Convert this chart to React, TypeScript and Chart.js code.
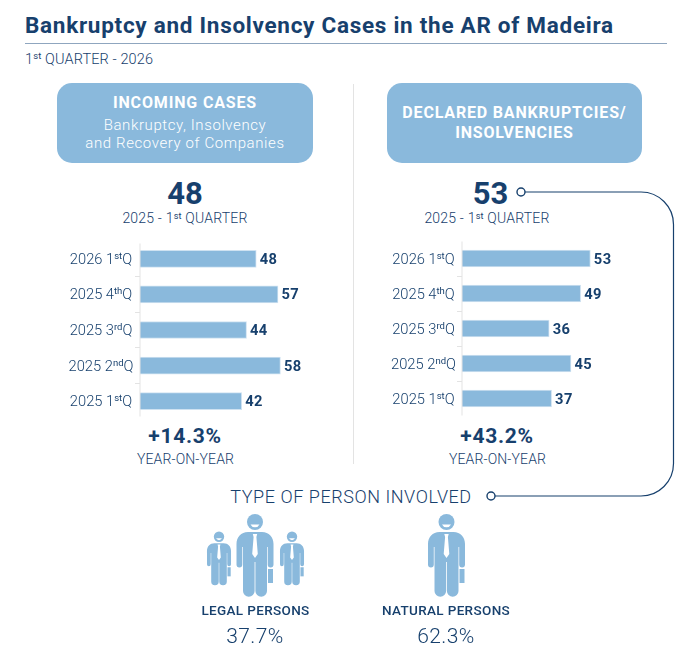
import React, { useEffect, useRef } from "react";
import { Chart, registerables } from "chart.js";

Chart.register(...registerables);

const quarters = ["2026 1stQ", "2025 4thQ", "2025 3rdQ", "2025 2ndQ", "2025 1stQ"];
const incomingCases = [48, 57, 44, 58, 42];
const declaredCases = [53, 49, 36, 45, 37];

const NAVY = "#17406d";
const BLUE = "#8ab9dc";
const BLUE_EDGE = "#cfe2f1";
const FONT = "Roboto, sans-serif";

// quarter labels have a raised ordinal, which chart.js ticks can't do, so they are drawn here
const labelsPlugin = {
  id: "labels",
  afterDraw(chart: any, _args: any, opts: any) {
    const { ctx, chartArea, scales } = chart;
    const y = scales.y;
    ctx.save();

    ctx.strokeStyle = "#e3e3e3";
    ctx.lineWidth = 1;
    ctx.beginPath();
    ctx.moveTo(chartArea.left, chartArea.top + opts.axisInset);
    ctx.lineTo(chartArea.left, chartArea.bottom - opts.axisInset);
    ctx.stroke();

    ctx.textBaseline = "alphabetic";
    ctx.fillStyle = NAVY;
    chart.data.labels.forEach((label: string, i: number) => {
      const m = label.match(/^(.*?)(st|nd|rd|th)(Q)$/)!;
      const py = y.getPixelForValue(i);
      const big = "300 14.7px " + FONT;
      const small = "400 9.5px " + FONT;
      ctx.font = big;
      const w1 = ctx.measureText(m[1]).width;
      const w3 = ctx.measureText(m[3]).width;
      ctx.font = small;
      const w2 = ctx.measureText(m[2]).width;
      let x = opts.labelCenter - (w1 + w2 + w3) / 2;
      ctx.textAlign = "left";
      ctx.font = big;
      ctx.fillText(m[1], x, py + 5);
      x += w1;
      ctx.font = small;
      ctx.fillText(m[2], x, py);
      x += w2;
      ctx.font = big;
      ctx.fillText(m[3], x, py + 5);
    });

    const bars = chart.getDatasetMeta(0).data;
    ctx.font = "700 14.7px " + FONT;
    ctx.letterSpacing = "0.4px";
    ctx.textAlign = "left";
    bars.forEach((bar: any, i: number) => {
      ctx.fillText(String(chart.data.datasets[0].data[i]), bar.x + 3.5, bar.y + 5);
    });
    ctx.restore();
  },
};

function BarPanel({ values, left, top, height, labelCenter, axisInset }: any) {
  const ref = useRef<HTMLCanvasElement | null>(null);

  useEffect(() => {
    if (!ref.current) return;
    const chart = new Chart(ref.current, {
      type: "bar",
      data: {
        labels: quarters,
        datasets: [
          {
            data: values,
            backgroundColor: BLUE,
            borderColor: BLUE_EDGE,
            borderWidth: 1,
            barThickness: 17,
          },
        ],
      },
      options: {
        indexAxis: "y",
        responsive: false,
        animation: false,
        layout: { padding: 0 },
        plugins: {
          legend: { display: false },
          tooltip: { enabled: false },
          labels: { labelCenter, axisInset },
        } as any,
        scales: {
          x: { display: false, min: 0, max: 82.6 },
          y: {
            afterFit: (scale: any) => {
              scale.width = 100;
            },
            border: { display: false },
            ticks: { display: false },
            grid: {
              drawOnChartArea: false,
              tickLength: 5,
              tickColor: (c: any) =>
                c.index === 0 || c.index === quarters.length ? "rgba(0,0,0,0)" : "#e3e3e3",
            },
          },
        },
      },
      plugins: [labelsPlugin],
    } as any);
    return () => chart.destroy();
  }, [values, labelCenter, axisInset]);

  return (
    <canvas
      ref={ref}
      width={300}
      height={height}
      style={{ position: "absolute", left, top, width: 300, height }}
    />
  );
}

function Txt({ x, y, size, weight = 400, color = NAVY, spacing = 0, anchor = "center", children }: any) {
  return (
    <div
      style={{
        position: "absolute",
        left: x,
        top: y,
        transform: anchor === "center" ? "translate(-50%,-50%)" : "translate(0,-50%)",
        fontSize: size,
        fontWeight: weight,
        color,
        letterSpacing: spacing,
        lineHeight: 1,
        whiteSpace: "nowrap",
      }}
    >
      {children}
    </div>
  );
}

const Sup = ({ children }: any) => (
  <sup style={{ fontSize: "0.65em", lineHeight: 0, verticalAlign: "baseline", position: "relative", top: "-0.45em", fontWeight: 400 }}>
    {children}
  </sup>
);

function Person({ x, y, scale = 1 }: { x: number; y: number; scale?: number }) {
  return (
    <g transform={`translate(${x} ${y}) scale(${scale})`}>
      <circle cx={0} cy={8} r={8} fill={BLUE} />
      <path d="M-4.5 10.5 H4.5 A5 5 0 0 1 -4.5 10.5 Z" fill="#fff" />
      <path
        d="M-7 18 H7 C14 18 18.5 23 18.5 30 V50.5 A2.9 2.9 0 0 1 12.7 50.5 V33 H12 V77 A5.8 5.8 0 0 1 0.4 77 V48 H-0.4 V77 A5.8 5.8 0 0 1 -12 77 V33 H-12.7 V50.5 A2.9 2.9 0 0 1 -18.5 50.5 V30 C-18.5 23 -14 18 -7 18 Z"
        fill={BLUE}
      />
      <path d="M-2.2 20 H2.2 L1.4 23 L2.8 40 L0 44 L-2.8 40 L-1.4 23 Z" fill="#fff" />
      <rect x={13} y={55} width={5} height={14} fill={BLUE} />
    </g>
  );
}

export default function App() {
  return (
    <div
      style={{
        position: "absolute",
        left: 0,
        top: 0,
        width: 700,
        height: 654,
        overflow: "hidden",
        background: "#fff",
        fontFamily: FONT,
      }}
    >
      <Txt x={25} y={25} size={22.5} weight={700} spacing={0.72} anchor="left">
        Bankruptcy and Insolvency Cases in the AR of Madeira
      </Txt>
      <div style={{ position: "absolute", left: 25, top: 43, width: 642, height: 1, background: "#8fa6bf" }} />
      <Txt x={25} y={59.5} size={14.5} weight={300} spacing={0.12} anchor="left">
        1<Sup>st</Sup> QUARTER - 2026
      </Txt>

      <div style={{ position: "absolute", left: 57, top: 83, width: 256, height: 80, borderRadius: 15, background: BLUE }} />
      <Txt x={185} y={102.5} size={16} weight={700} color="#fff" spacing={0.85}>INCOMING CASES</Txt>
      <Txt x={185} y={125} size={15} weight={300} color="#fff" spacing={0.6}>Bankruptcy, Insolvency</Txt>
      <Txt x={185} y={143} size={15} weight={300} color="#fff" spacing={0.6}>and Recovery of Companies</Txt>

      <div style={{ position: "absolute", left: 387, top: 83, width: 255, height: 80, borderRadius: 15, background: BLUE }} />
      <Txt x={514.5} y={113} size={16} weight={700} color="#fff" spacing={0.82}>DECLARED BANKRUPTCIES/</Txt>
      <Txt x={514.5} y={133} size={16} weight={700} color="#fff" spacing={0.82}>INSOLVENCIES</Txt>

      <div style={{ position: "absolute", left: 353, top: 84, width: 1, height: 380, background: "#e3e3e3" }} />

      <Txt x={185} y={192.5} size={31} weight={700}>48</Txt>
      <Txt x={185} y={218} size={14} weight={300} spacing={0.2}>2025 - 1<Sup>st</Sup> QUARTER</Txt>
      <Txt x={490.5} y={192.5} size={31} weight={700}>53</Txt>
      <Txt x={487} y={218} size={14} weight={300} spacing={0.2}>2025 - 1<Sup>st</Sup> QUARTER</Txt>

      <BarPanel values={incomingCases} left={40} top={241} height={178} labelCenter={61} axisInset={2.5} />
      <BarPanel values={declaredCases} left={362} top={241} height={175} labelCenter={61.5} axisInset={0.5} />

      <Txt x={185} y={436} size={21} weight={700} spacing={0.7}>+14.3%</Txt>
      <Txt x={185.5} y={459} size={14} weight={300} spacing={0.15}>YEAR-ON-YEAR</Txt>
      <Txt x={497} y={436} size={21} weight={700} spacing={0.7}>+43.2%</Txt>
      <Txt x={497.5} y={459} size={14} weight={300} spacing={0.15}>YEAR-ON-YEAR</Txt>

      <Txt x={351} y={497} size={18} weight={300} spacing={0.55}>TYPE OF PERSON INVOLVED</Txt>

      <svg width={700} height={654} style={{ position: "absolute", left: 0, top: 0 }}>
        <path d="M525 192 H641 A32.5 32.5 0 0 1 673.5 224.5 V463.5 A32.5 32.5 0 0 1 641 496 H495" fill="none" stroke={NAVY} strokeWidth={1.2} />
        <circle cx={521} cy={192} r={4} fill="#fff" stroke={NAVY} strokeWidth={1.4} />
        <circle cx={491} cy={496} r={4} fill="#fff" stroke={NAVY} strokeWidth={1.4} />
        <Person x={219} y={531.5} scale={0.65} />
        <Person x={255} y={514} />
        <Person x={292} y={531.5} scale={0.65} />
        <Person x={446.5} y={514} />
      </svg>

      <Txt x={255.5} y={611} size={13.5} weight={500} spacing={0.35}>LEGAL PERSONS</Txt>
      <Txt x={255} y={636} size={21} weight={300} spacing={0.4}>37.7%</Txt>
      <Txt x={446} y={611} size={13.5} weight={500} spacing={0.35}>NATURAL PERSONS</Txt>
      <Txt x={446} y={636} size={21} weight={300} spacing={0.4}>62.3%</Txt>
    </div>
  );
}
